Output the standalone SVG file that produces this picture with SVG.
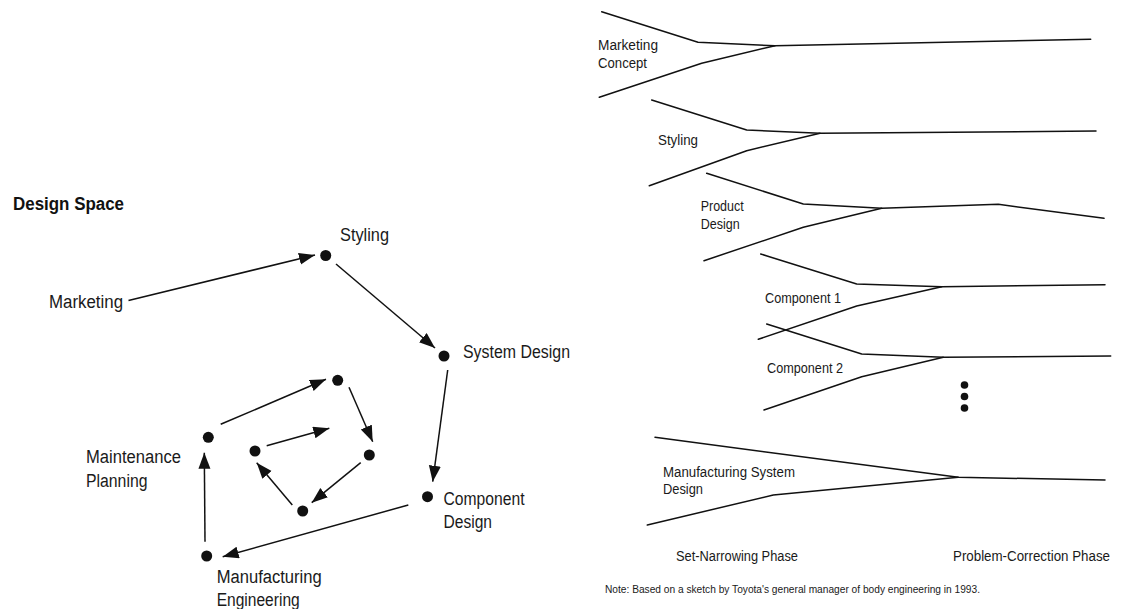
<svg xmlns="http://www.w3.org/2000/svg" width="1124" height="609" viewBox="0 0 1124 609">
  <style>
    .bg { fill: #ffffff; }
    .lbl { font-family: "Liberation Sans", Arial, sans-serif; font-size: 18px; fill: #1a1a1a; }
    .lbl-sm { font-family: "Liberation Sans", Arial, sans-serif; font-size: 14px; fill: #1a1a1a; }
    .note { font-family: "Liberation Sans", Arial, sans-serif; font-size: 11.5px; fill: #1a1a1a; }
    .title { font-family: "Liberation Sans", Arial, sans-serif; font-size: 18px; font-weight: bold; fill: #111; }
    .dot { fill: #111; }
    .edge { stroke: #111; stroke-width: 1.5; fill: none; marker-end: url(#arrow); }
    .funnel { stroke: #111; stroke-width: 1.5; fill: none; stroke-linejoin: round; stroke-linecap: round; }
  </style>
  <defs>
    <marker id="arrow" markerUnits="userSpaceOnUse" markerWidth="17" markerHeight="13" refX="16" refY="6" orient="auto">
      <path d="M0,0 L16,6 L0,12 z" fill="#111"/>
    </marker>
  </defs>

  <rect class="bg" x="0" y="0" width="1124" height="609"/>

  <!-- Left panel: design space -->
  <text class="title" x="13" y="210" textLength="111" lengthAdjust="spacingAndGlyphs">Design Space</text>

  <g id="marketing">
    <text class="lbl" x="49" y="308" textLength="74" lengthAdjust="spacingAndGlyphs">Marketing</text>
  </g>
  <g id="styling">
    <circle class="dot" cx="325.7" cy="255.5" r="5.5"/>
    <text class="lbl" x="340" y="241" textLength="49" lengthAdjust="spacingAndGlyphs">Styling</text>
  </g>
  <g id="system-design">
    <circle class="dot" cx="444" cy="356" r="5.5"/>
    <text class="lbl" x="463" y="358" textLength="107" lengthAdjust="spacingAndGlyphs">System Design</text>
  </g>
  <g id="component-design">
    <circle class="dot" cx="427.5" cy="496.7" r="5.5"/>
    <text class="lbl" x="443.5" y="505" textLength="81" lengthAdjust="spacingAndGlyphs">Component</text>
    <text class="lbl" x="443.5" y="528" textLength="48.5" lengthAdjust="spacingAndGlyphs">Design</text>
  </g>
  <g id="manufacturing-engineering">
    <circle class="dot" cx="206.7" cy="556" r="5.5"/>
    <text class="lbl" x="216.7" y="583" textLength="105" lengthAdjust="spacingAndGlyphs">Manufacturing</text>
    <text class="lbl" x="216.7" y="606" textLength="83" lengthAdjust="spacingAndGlyphs">Engineering</text>
  </g>
  <g id="maintenance-planning">
    <circle class="dot" cx="208.3" cy="437.3" r="5.5"/>
    <text class="lbl" x="86" y="462.7" textLength="95" lengthAdjust="spacingAndGlyphs">Maintenance</text>
    <text class="lbl" x="86" y="487" textLength="61.5" lengthAdjust="spacingAndGlyphs">Planning</text>
  </g>
  <g id="loop-top"><circle class="dot" cx="337.7" cy="380.3" r="5.5"/></g>
  <g id="loop-right"><circle class="dot" cx="369.3" cy="455" r="5.5"/></g>
  <g id="loop-bottom"><circle class="dot" cx="302.7" cy="511" r="5.5"/></g>
  <g id="loop-left"><circle class="dot" cx="255" cy="451" r="5.5"/></g>

  <g id="connectors">
    <line class="edge" x1="128.5" y1="300.5" x2="315" y2="255"/>
    <line class="edge" x1="336" y1="264" x2="435" y2="348"/>
    <line class="edge" x1="447.7" y1="370" x2="432.7" y2="481.7"/>
    <line class="edge" x1="408.3" y1="505" x2="222.7" y2="556.7"/>
    <line class="edge" x1="205" y1="541.7" x2="204.3" y2="452.7"/>
    <line class="edge" x1="220.7" y1="424.3" x2="326" y2="379.3"/>
    <line class="edge" x1="349" y1="387.3" x2="372.7" y2="441.7"/>
    <line class="edge" x1="360.7" y1="462.7" x2="311.7" y2="502.7"/>
    <line class="edge" x1="292.3" y1="505" x2="256.7" y2="462.7"/>
    <line class="edge" x1="266.7" y1="445.7" x2="329.3" y2="428.3"/>
  </g>

  <!-- Right panel: converging sets per function -->
  <g id="funnel-marketing-concept">
    <path class="funnel" d="M601.7,11.7 L698,42.3 L775,45.7 L1090.7,39.3"/>
    <path class="funnel" d="M599.3,97.3 L701.7,63.3 L775,45.7"/>
    <text class="lbl-sm" x="598" y="50" textLength="60" lengthAdjust="spacingAndGlyphs">Marketing</text>
    <text class="lbl-sm" x="598" y="67.5" textLength="49" lengthAdjust="spacingAndGlyphs">Concept</text>
  </g>
  <g id="funnel-styling">
    <path class="funnel" d="M651.7,100 L746.7,130 L820,133.3 L1096,131"/>
    <path class="funnel" d="M649.3,185.7 L746.7,150.7 L820,133.3"/>
    <text class="lbl-sm" x="658" y="144.5" textLength="40" lengthAdjust="spacingAndGlyphs">Styling</text>
  </g>
  <g id="funnel-product-design">
    <path class="funnel" d="M706.7,173.3 L803.3,204 L881.7,208.3 L998.3,204.3 L1104,218.3"/>
    <path class="funnel" d="M704,260.7 L803.3,227.3 L881.7,208.3"/>
    <text class="lbl-sm" x="700.7" y="211" textLength="43" lengthAdjust="spacingAndGlyphs">Product</text>
    <text class="lbl-sm" x="700.7" y="229" textLength="39" lengthAdjust="spacingAndGlyphs">Design</text>
  </g>
  <g id="funnel-component-1">
    <path class="funnel" d="M760.7,254 L856.7,284 L941.7,286.7 L1105,284.7"/>
    <path class="funnel" d="M758.3,339.3 L856.7,306 L941.7,286.7"/>
    <text class="lbl-sm" x="765" y="302.5" textLength="76" lengthAdjust="spacingAndGlyphs">Component 1</text>
  </g>
  <g id="funnel-component-2">
    <path class="funnel" d="M766.7,324 L861.7,354 L943.3,357.3 L1110.7,356"/>
    <path class="funnel" d="M764,410 L861.7,376.7 L943.3,357.3"/>
    <text class="lbl-sm" x="767" y="372.5" textLength="76" lengthAdjust="spacingAndGlyphs">Component 2</text>
  </g>
  <g id="ellipsis">
    <circle class="dot" cx="964.5" cy="385" r="3.8"/>
    <circle class="dot" cx="964.5" cy="396.5" r="3.8"/>
    <circle class="dot" cx="964.5" cy="408" r="3.8"/>
  </g>
  <g id="funnel-manufacturing-system">
    <path class="funnel" d="M655,437.3 L958.3,477.3 L1105,480"/>
    <path class="funnel" d="M647.3,525 L773.3,495 L958.3,477.3"/>
    <text class="lbl-sm" x="663" y="477" textLength="132" lengthAdjust="spacingAndGlyphs">Manufacturing System</text>
    <text class="lbl-sm" x="663" y="494" textLength="40" lengthAdjust="spacingAndGlyphs">Design</text>
  </g>

  <g id="phases">
    <text class="lbl-sm" x="676" y="560.5" textLength="122" lengthAdjust="spacingAndGlyphs">Set-Narrowing Phase</text>
    <text class="lbl-sm" x="953" y="560.5" textLength="157" lengthAdjust="spacingAndGlyphs">Problem-Correction Phase</text>
  </g>
  <text class="note" x="605" y="593" textLength="375" lengthAdjust="spacingAndGlyphs">Note: Based on a sketch by Toyota's general manager of body engineering in 1993.</text>
</svg>
